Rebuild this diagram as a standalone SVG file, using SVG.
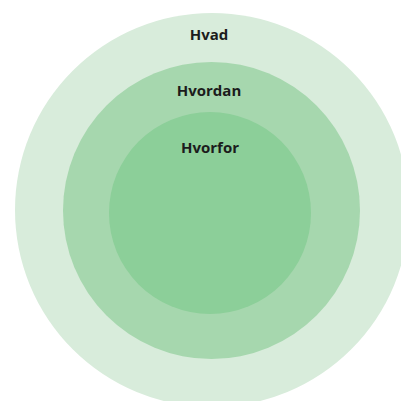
<svg xmlns="http://www.w3.org/2000/svg" width="401" height="401" viewBox="0 0 401 401">
<style>
text{font-family:"Open Sans","Noto Sans","DejaVu Sans",sans-serif;font-weight:700;font-size:15px;fill:#1c1c1c;text-anchor:middle}
</style>
<rect width="401" height="401" fill="#fff"/>
<g id="hvad"><circle cx="212" cy="210" r="197" fill="#d8ecdb"/><text x="209" y="40">Hvad</text></g>
<g id="hvordan"><circle cx="211.5" cy="210.5" r="148.5" fill="#a6d7ae"/><text x="209" y="96">Hvordan</text></g>
<g id="hvorfor"><circle cx="210" cy="213" r="101" fill="#8ccf99"/><text x="210" y="153">Hvorfor</text></g>
<g id="connectors"/>
</svg>
